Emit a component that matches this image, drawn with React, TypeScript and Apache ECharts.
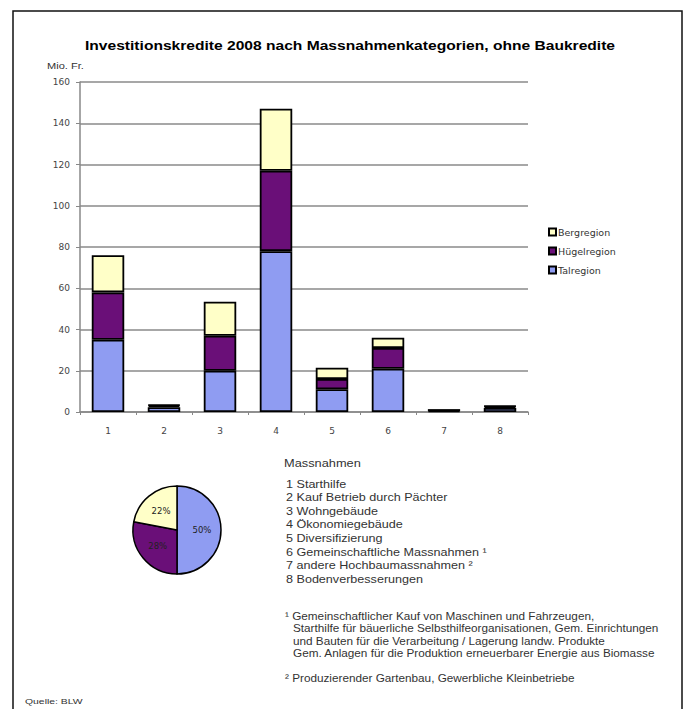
import React, { useEffect, useRef } from "react";
import * as echarts from "echarts";

const categories = ["1", "2", "3", "4", "5", "6", "7", "8"];
const talregion = [35, 2.3, 20, 78, 11, 21, 0.6, 2];
const huegelregion = [23, 0.8, 17, 39, 5, 10, 0.3, 0.7];
const bergregion = [18, 0.4, 16.5, 30, 5.5, 5, 0.1, 0.3];
const yTicks = [0, 20, 40, 60, 80, 100, 120, 140, 160];
const pieShares = [
  { name: "Talregion", value: 50 },
  { name: "Hügelregion", value: 28 },
  { name: "Bergregion", value: 22 },
];
const massnahmen = [
  "1 Starthilfe",
  "2 Kauf Betrieb durch Pächter",
  "3 Wohngebäude",
  "4 Ökonomiegebäude",
  "5 Diversifizierung",
  "6 Gemeinschaftliche Massnahmen ¹",
  "7 andere Hochbaumassnahmen ²",
  "8 Bodenverbesserungen",
];
const footnote1 = [
  "¹ Gemeinschaftlicher Kauf von Maschinen und Fahrzeugen,",
  "Starthilfe für bäuerliche Selbsthilfeorganisationen, Gem. Einrichtungen",
  "und Bauten für die Verarbeitung / Lagerung landw. Produkte",
  "Gem. Anlagen für die Produktion erneuerbarer Energie aus Biomasse",
];
const footnote2 = "² Produzierender Gartenbau, Gewerbliche Kleinbetriebe";

const C_TAL = "#8f9cf2";
const C_HUE = "#6a0f78";
const C_BERG = "#ffffc8";
const FONT = "Arial, 'Liberation Sans', sans-serif";
const WIDE = "'DejaVu Sans', sans-serif";

export default function App() {
  const ref = useRef<HTMLDivElement>(null);
  useEffect(() => {
    if (!ref.current) return;
    const chart = echarts.init(ref.current, undefined, { renderer: "svg" });
    const barStyle = (color: string) => ({
      color,
      borderColor: "#000",
      borderWidth: 1.8,
    });
    const txt = (x: number, y: number, text: string, size: number, sx = 1.25, extra: any = {}) => ({
      type: "text",
      x,
      y,
      scaleX: sx,
      style: {
        text,
        font: `${size}px ${FONT}`,
        fill: "#333",
        verticalAlign: "middle",
        ...extra,
      },
    });
    const graphics: any[] = [
      {
        type: "rect",
        shape: { x: 13, y: 11, width: 669, height: 720 },
        style: { fill: "none", stroke: "#111", lineWidth: 1.5 },
        silent: true,
      },
      {
        type: "text",
        x: 350,
        y: 45,
        scaleX: 1.2,
        style: {
          text: "Investitionskredite 2008 nach Massnahmenkategorien, ohne Baukredite",
          font: `bold 13px ${FONT}`,
          fill: "#000",
          align: "center",
          verticalAlign: "middle",
        },
      },
      txt(47, 66, "Mio. Fr.", 8.5, 1.3),
      txt(284, 463, "Massnahmen", 10.5, 1.22),
      txt(25, 701, "Quelle: BLW", 8, 1.3),
    ];
    massnahmen.forEach((t, i) => {
      graphics.push(txt(286, 484 + i * 13.6, t, 10.5, 1.2));
    });
    footnote1.forEach((t, i) => {
      graphics.push(txt(i === 0 ? 285 : 293, 616 + i * 12.5, t, 10.5, 1.12));
    });
    graphics.push(txt(285, 678, footnote2, 10.5, 1.12));

    chart.setOption({
      animation: false,
      backgroundColor: "#fff",
      textStyle: { fontFamily: FONT },
      grid: { left: 80, top: 82, width: 448, height: 330, containLabel: false },
      legend: {
        orient: "vertical",
        left: 543,
        top: 222,
        itemWidth: 7,
        itemHeight: 7,
        itemGap: 9,
        icon: "rect",
        textStyle: { fontSize: 9.5, fontFamily: WIDE, color: "#333", padding: [0, 0, 0, -3] },
        data: ["Bergregion", "Hügelregion", "Talregion"],
      },
      xAxis: {
        type: "category",
        data: categories,
        axisLine: { lineStyle: { color: "#888", width: 1.5 } },
        axisTick: { show: true, length: 3, lineStyle: { color: "#888" } },
        axisLabel: { fontSize: 9, fontFamily: WIDE, color: "#444", margin: 14 },
      },
      yAxis: {
        type: "value",
        min: 0,
        max: 160,
        interval: 20,
        axisLine: { show: true, lineStyle: { color: "#888", width: 1.5 } },
        axisTick: { show: true, length: 4, lineStyle: { color: "#888" } },
        axisLabel: {
          fontSize: 9,
          fontFamily: WIDE,
          color: "#444",
          margin: 10,
          formatter: (v: number) => (yTicks.includes(v) ? String(v) : ""),
        },
        splitLine: { show: true, lineStyle: { color: "#8a8a8a", width: 1.5 } },
      },
      series: [
        {
          name: "Talregion",
          type: "bar",
          stack: "a",
          barWidth: "58%",
          data: talregion,
          itemStyle: barStyle(C_TAL),
        },
        {
          name: "Hügelregion",
          type: "bar",
          stack: "a",
          data: huegelregion,
          itemStyle: barStyle(C_HUE),
        },
        {
          name: "Bergregion",
          type: "bar",
          stack: "a",
          data: bergregion,
          itemStyle: barStyle(C_BERG),
        },
        {
          name: "Anteil",
          type: "pie",
          center: [177, 530],
          radius: 44,
          startAngle: 90,
          clockwise: true,
          legendHoverLink: false,
          label: {
            show: true,
            position: "inside",
            fontSize: 8.5,
            fontFamily: WIDE,
            color: "#222",
            formatter: (p: any) => `${p.value}%`,
          },
          labelLine: { show: false },
          itemStyle: { borderColor: "#000", borderWidth: 1.5 },
          data: pieShares.map((d) => ({
            ...d,
            itemStyle: {
              color: d.name === "Talregion" ? C_TAL : d.name === "Hügelregion" ? C_HUE : C_BERG,
            },
          })),
        },
      ],
      graphic: graphics,
    });
    return () => chart.dispose();
  }, []);
  return (
    <div
      ref={ref}
      style={{ position: "fixed", left: 0, top: 0, width: 688, height: 709 }}
    />
  );
}
